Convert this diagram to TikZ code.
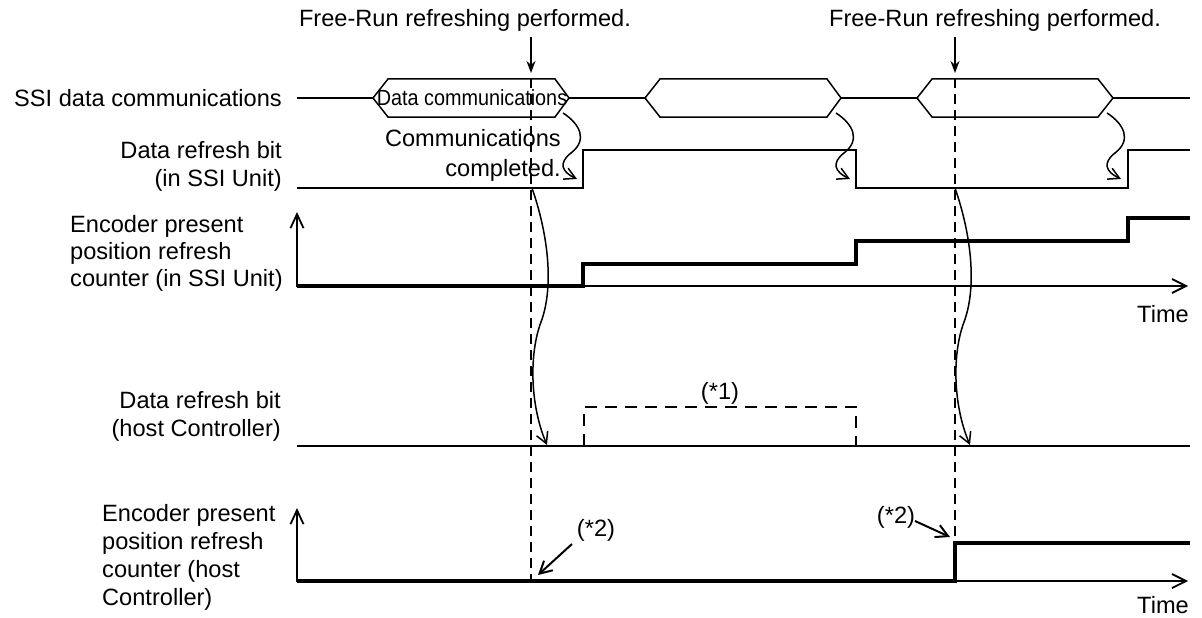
\documentclass[tikz,border=0pt]{standalone}
\usepackage{fontspec}
\setmainfont{Liberation Sans}
\usetikzlibrary{arrows.meta}
\begin{document}
\begin{tikzpicture}[x=1pt,y=-1pt,
  lbl/.style={font=\fontsize{23.6}{28}\selectfont, inner sep=0pt},
  sig/.style={line width=1.5pt},
  cnt/.style={line width=4pt},
  axisline/.style={line width=1.8pt},
  dsh/.style={line width=1.2pt, dash pattern=on 10pt off 6pt},
  pulse/.style={line width=1.4pt, dash pattern=on 12pt off 8pt},
  wav/.style={line width=1.5pt, -{Straight Barb[length=11pt,width=12pt,line width=1.5pt]}},
  frarrow/.style={line width=1.5pt, -{Stealth[length=12pt,width=9pt]}},
  ptr/.style={line width=2pt, -{Straight Barb[length=12pt,width=13pt,line width=2pt]}},
  axarrow/.style={axisline, {Straight Barb[length=14pt,width=13pt,line width=1.8pt]}-{Straight Barb[length=14pt,width=14pt,line width=1.8pt]}}
]
\useasboundingbox (0,0) rectangle (1202,618);

% ---------- labels on the left ----------
\node[lbl, anchor=east] (l1) at (282,98) {SSI data communications};
\node[lbl, align=right, anchor=east] (l2) at (282,166) {Data refresh bit\\(in SSI Unit)};
\node[lbl, align=left, anchor=west, font=\fontsize{23.6}{27}\selectfont] (l3) at (70,253) {Encoder present\\position refresh\\counter (in SSI Unit)};
\node[lbl, align=right, anchor=east] (l4) at (281,416) {Data refresh bit\\(host Controller)};
\node[lbl, align=left, anchor=west] (l5) at (102,557) {Encoder present\\position refresh\\counter (host\\Controller)};

% ---------- top annotations ----------
\node[lbl] (fr1) at (465,20) {Free-Run refreshing performed.};
\node[lbl] (fr2) at (995,20) {Free-Run refreshing performed.};
\coordinate (fr1s) at (531,37);
\coordinate (fr1t) at (531,73);
\coordinate (fr2s) at (955,37);
\coordinate (fr2t) at (955,73);
\draw[frarrow] (fr1s) -- (fr1t);
\draw[frarrow] (fr2s) -- (fr2t);

% ---------- dashed reference lines ----------
\draw[dsh] (531,78) -- (531,581);
\draw[dsh] (955,78) -- (955,543);

% ---------- row 1: SSI data communications ----------
\draw[sig] (297,98) -- (373,98);
\draw[sig] (569,98) -- (645,98);
\draw[sig] (841,98) -- (917,98);
\draw[sig] (1113,98) -- (1190,98);
\draw[sig, line join=miter] (373,98) -- (388,79) -- (555,79) -- (569,98) -- (555,117) -- (388,117) -- cycle;
\draw[sig, line join=miter] (645,98) -- (660,79) -- (827,79) -- (841,98) -- (827,117) -- (660,117) -- cycle;
\draw[sig, line join=miter] (917,98) -- (932,79) -- (1098,79) -- (1113,98) -- (1098,117) -- (932,117) -- cycle;
\node[font=\fontsize{22}{24}\selectfont, inner sep=0pt] (dc) at (472,98) {\scalebox{0.9}[1]{Data communications}};

\node[lbl, align=right, anchor=east, font=\fontsize{23.6}{30}\selectfont] (cc) at (561,155) {Communications\\completed.};

% ---------- row 2: data refresh bit (SSI Unit) ----------
\draw[sig] (297,188) -- (583,188) -- (583,150) -- (856,150) -- (856,188) -- (1128,188) -- (1128,150) -- (1190,150);

% wavy arrows from communications end to refresh bit
\draw[wav] (563,113) .. controls (580,124) and (588,140) .. (571,153) .. controls (558,163) and (562,172) .. (577,179);
\draw[wav] (836,113) .. controls (853,124) and (861,140) .. (844,153) .. controls (831,163) and (835,172) .. (850,179);
\draw[wav] (1107,113) .. controls (1124,124) and (1132,140) .. (1115,153) .. controls (1102,163) and (1106,172) .. (1121,179);

% ---------- row 3: counter (SSI Unit) ----------
\draw[axarrow] (297,212) -- (297,286) -- (1188,286);
\draw[cnt] (297,286) -- (583,286) -- (583,264) -- (856,264) -- (856,241) -- (1128,241) -- (1128,218) -- (1190,218);
\node[lbl, anchor=east] (t1) at (1189,314) {Time};

% ---------- row 4: data refresh bit (host) ----------
\draw[sig] (297,446) -- (1190,446);
\draw[pulse] (584,446) -- (584,407) -- (856,407) -- (856,446);
\node[lbl] (n1) at (720,393) {(*1)};

% long wavy arrows
\draw[wav] (532,188) .. controls (550,240) and (553,290) .. (541,322) .. controls (529,354) and (530,405) .. (547,445);
\draw[wav] (955,188) .. controls (973,240) and (976,290) .. (964,322) .. controls (952,354) and (953,405) .. (970,445);

% ---------- row 5: counter (host) ----------
\draw[axarrow] (297,508) -- (297,581) -- (1188,581);
\draw[cnt] (297,581) -- (955,581) -- (955,543) -- (1190,543);
\node[lbl, anchor=east] (t2) at (1189,605) {Time};

\node[lbl] (n2a) at (596,530) {(*2)};
\node[lbl] (n2b) at (896,517) {(*2)};
\coordinate (p2a) at (538,575);
\coordinate (p2b) at (950,537);
\draw[ptr] (572,544) -- (p2a);
\draw[ptr] (915,521) -- (p2b);
\end{tikzpicture}
\end{document}
